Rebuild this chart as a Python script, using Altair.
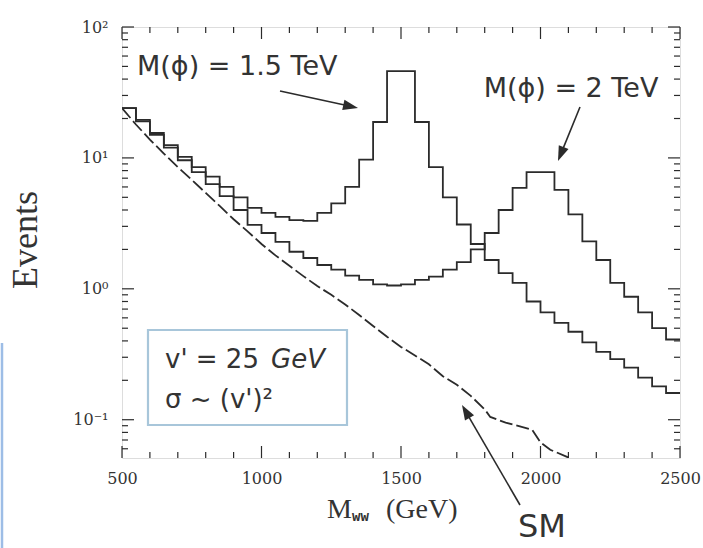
import math
import altair as alt
import pandas as pd

# ---------------- data ----------------
bin_edges = list(range(500, 2501, 50))  # 41 edges, 40 bins of 50 GeV

events_m15 = [24, 19.5, 15.5, 12.5, 10.2, 8.5, 7.2, 6.0, 5.0, 4.15,
              3.8, 3.55, 3.35, 3.3, 3.8, 4.5, 6.0, 9.7, 18.8, 46,
              46, 18.8, 8.5, 5.0, 3.1, 2.2, 1.66, 1.32, 1.11, 0.80,
              0.66, 0.55, 0.47, 0.39, 0.33, 0.29, 0.25, 0.21, 0.18, 0.16]

events_m20 = [24, 19, 15, 12, 9.6, 7.8, 6.3, 5.1, 4.0, 3.08,
              2.67, 2.28, 1.92, 1.72, 1.52, 1.40, 1.26, 1.17, 1.08, 1.06,
              1.08, 1.17, 1.24, 1.40, 1.6, 2.0, 2.67, 4.0, 5.9, 7.8,
              7.8, 5.7, 3.7, 2.3, 1.66, 1.11, 0.87, 0.66, 0.50, 0.41]

sm_mass = [500, 550, 600, 650, 700, 750, 800, 850, 900, 950,
           1000, 1050, 1100, 1150, 1200, 1250, 1300, 1350, 1400, 1450,
           1500, 1550, 1600, 1650, 1700, 1750, 1800, 1820, 1875, 1970,
           2000, 2035, 2095, 2150]
sm_events = [24, 18, 13.8, 10.8, 8.5, 6.8, 5.4, 4.3, 3.4, 2.75,
             2.2, 1.8, 1.5, 1.25, 1.05, 0.9, 0.76, 0.63, 0.52, 0.43,
             0.36, 0.31, 0.265, 0.215, 0.185, 0.152, 0.12, 0.105, 0.095, 0.084,
             0.067, 0.059, 0.052, 0.045]

x_major = [500, 1000, 1500, 2000, 2500]
x_minor = [600, 700, 800, 900, 1100, 1200, 1300, 1400, 1600, 1700, 1800, 1900,
           2100, 2200, 2300, 2400]
y_major = [0.1, 1, 10, 100]
y_minor = [0.06, 0.07, 0.08, 0.09,
           0.2, 0.3, 0.4, 0.5, 0.6, 0.7, 0.8, 0.9,
           2, 3, 4, 5, 6, 7, 8, 9,
           20, 30, 40, 50, 60, 70, 80, 90]

# ---------------- layout ----------------
W, H = 558, 431
PAD = {"left": 122, "top": 27, "right": 23, "bottom": 90}
INK = "#2b2b2b"

xscale = alt.Scale(domain=[500, 2500], nice=False, zero=False)
yscale = alt.Scale(type="log", domain=[0.051, 100], nice=False)

rows = []
for name, vals in (("1.5 TeV", events_m15), ("2 TeV", events_m20)):
    for e, v in zip(bin_edges, vals + [vals[-1]]):
        rows.append({"curve": name, "mass": e, "events": v})
df_hist = pd.DataFrame(rows)
df_sm = pd.DataFrame({"mass": sm_mass, "events": sm_events})

hist = alt.Chart(df_hist).mark_line(
    interpolate="step-after", clip=True, color=INK, strokeWidth=1.8
).encode(
    x=alt.X("mass:Q", scale=xscale,
            axis=alt.Axis(values=x_major, title=None, format="d", ticks=False,
                          domain=False, grid=False, labelFont="DejaVu Serif",
                          labelFontSize=16, labelColor="#333", labelPadding=12,
                          labelFlush=False, labelOverlap=False)),
    y=alt.Y("events:Q", scale=yscale,
            axis=alt.Axis(values=y_major, title=None, ticks=False, domain=False,
                          grid=False, labelFont="DejaVu Serif", labelFontSize=16,
                          labelColor="#333", labelPadding=14, labelOverlap=False,
                          labelExpr="datum.value >= 99 ? '10²' : datum.value >= 9 ? '10¹' : datum.value >= 0.9 ? '10⁰' : '10⁻¹'")),
    detail="curve:N",
)

sm = alt.Chart(df_sm).mark_line(
    clip=True, color=INK, strokeWidth=1.8, strokeDash=[13, 4]
).encode(
    x=alt.X("mass:Q", scale=xscale, title=None),
    y=alt.Y("events:Q", scale=yscale, title=None),
)

# ---- inward ticks ----
def yticks(vals, length):
    d = pd.DataFrame({"v": vals})
    left = alt.Chart(d).mark_rule(color=INK, strokeWidth=1.2).encode(
        y=alt.Y("v:Q", scale=yscale, title=None), x=alt.value(0), x2=alt.value(length))
    right = alt.Chart(d).mark_rule(color=INK, strokeWidth=1.2).encode(
        y=alt.Y("v:Q", scale=yscale, title=None), x=alt.value(W), x2=alt.value(W - length))
    return [left, right]

def xticks(vals, length):
    d = pd.DataFrame({"v": vals})
    bottom = alt.Chart(d).mark_rule(color=INK, strokeWidth=1.2).encode(
        x=alt.X("v:Q", scale=xscale, title=None), y=alt.value(H), y2=alt.value(H - length))
    top = alt.Chart(d).mark_rule(color=INK, strokeWidth=1.2).encode(
        x=alt.X("v:Q", scale=xscale, title=None), y=alt.value(0), y2=alt.value(length))
    return [bottom, top]

tick_layers = yticks(y_major, 12) + yticks(y_minor, 6) + xticks(x_major, 12) + xticks(x_minor, 6)

# ---- annotations ----
one = pd.DataFrame({"a": [0]})
OX, OY = PAD["left"], PAD["top"]

def text(s, px, py, size, font="DejaVu Sans", align="left", style="normal",
         weight="normal", angle=0, baseline="alphabetic", color="#333"):
    kw = dict(text=s, fontSize=size, font=font, align=align, baseline=baseline,
              fontStyle=style, fontWeight=weight, color=color)
    if angle:
        kw["angle"] = angle
    return alt.Chart(one).mark_text(**kw).encode(
        x=alt.value(px - OX), y=alt.value(py - OY))

def arrow(x0, y0, x1, y1, head=15):
    dx, dy = x1 - x0, y1 - y0
    n = math.hypot(dx, dy)
    ux, uy = dx / n, dy / n
    ang = math.degrees(math.atan2(ux, -uy)) % 360
    line = alt.Chart(one).mark_rule(color=INK, strokeWidth=1.6).encode(
        x=alt.value(x0 - OX), y=alt.value(y0 - OY),
        x2=alt.value(x1 - ux * head * 0.6 - OX), y2=alt.value(y1 - uy * head * 0.6 - OY))
    tip = alt.Chart(one).mark_point(
        shape="M0,-1L0.7,1L-0.7,1Z", size=head * head, filled=True,
        color=INK, opacity=1, angle=ang
    ).encode(x=alt.value(x1 - ux * head / 2 - OX), y=alt.value(y1 - uy * head / 2 - OY))
    return [line, tip]

box = alt.Chart(one).mark_rect(
    fillOpacity=0, stroke="#a8c6da", strokeWidth=2.2
).encode(x=alt.value(148 - OX), x2=alt.value(347 - OX),
         y=alt.value(330 - OY), y2=alt.value(425 - OY))

blue_edge = alt.Chart(one).mark_rule(color="#9dbde6", strokeWidth=2.5).encode(
    x=alt.value(2 - OX), y=alt.value(343 - OY), y2=alt.value(548 - OY))

annots = [
    text("M(ϕ) = 1.5 TeV", 137, 75, 27),
    text("M(ϕ) = 2 TeV", 571, 97, 27, align="center"),
    text("v' = 25", 165, 368, 26),
    text("GeV", 271, 368, 26, style="italic"),
    text("σ ~ (v')²", 165, 408, 26),
    text("SM", 518, 537, 32),
    text("Events", 37, 240, 36, font="Liberation Serif", align="center", angle=270),
    text("M", 327, 518, 28, font="Liberation Serif"),
    text("ww", 352, 521, 14, font="DejaVu Sans Mono", weight="bold"),
    text("(GeV)", 386, 518, 28, font="Liberation Serif"),
    box, blue_edge,
] + arrow(280, 91, 358, 108) + arrow(580, 107, 558, 161) + arrow(520, 505, 462, 405)

chart = alt.layer(hist, sm, *tick_layers, *annots).properties(
    width=W, height=H,
    autosize=alt.AutoSizeParams(type="none"),
    padding=PAD,
).configure_view(
    stroke=INK, strokeWidth=1.8
).configure(background="white")

chart.save("out.html", embed_options={"renderer": "svg", "actions": False})
